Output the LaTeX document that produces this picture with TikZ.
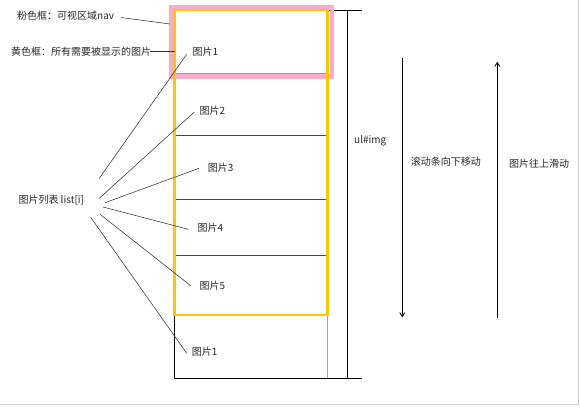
\documentclass[tikz,border=0pt]{standalone}
\usepackage{fontspec}
\setmainfont{Noto Sans CJK SC}
\usetikzlibrary{arrows.meta}
\definecolor{pinkc}{RGB}{250,172,200}
\definecolor{yel}{RGB}{255,198,0}
\definecolor{sepc}{RGB}{70,70,70}
\begin{document}
\begin{tikzpicture}[x=1pt,y=-1pt,
  lbl/.style={anchor=west,inner sep=0pt,font=\fontsize{10}{12}\selectfont,text=black!85},
  fan/.style={draw=black!80,line width=0.55pt},
  sepline/.style={draw=sepc,line width=0.8pt},
  mvarrow/.style={draw=black,line width=0.8pt,-{Straight Barb[length=4pt,width=5pt]}}]
\useasboundingbox (0,0) rectangle (580,407);
% screenshot frame
\draw[gray!40,line width=1pt] (578.5,0) -- (578.5,404.5) -- (0,404.5);
% container ul#img
\draw[black,line width=0.8pt] (174.3,10) -- (174.3,378) -- (362,378);
\draw[gray!70,line width=0.9pt] (327.7,315) -- (327.7,378);
\draw[sepline,draw=gray!80] (174.3,73) -- (327.7,73);
\draw[sepline] (174.3,135) -- (327.7,135);
\draw[sepline] (174.3,199.3) -- (327.7,199.3);
\draw[sepline] (174.3,255.7) -- (327.7,255.7);
\draw[black,line width=0.8pt] (325,10.3) -- (362,10.3);
\draw[black,line width=0.8pt] (347.7,10.3) -- (347.7,378);
% pink and yellow frames
\draw[pinkc,line width=4.5pt] (171.5,7) rectangle (331.8,76.5);
\draw[yel,line width=2.5pt] (174.3,10) rectangle (327.3,315);
% labels
\node[lbl] (pinklbl) at (17,15.7) {粉色框：可视区域nav};
\node[lbl] (yellbl) at (11,51.7) {黄色框：所有需要被显示的图片};
\node[lbl] (img1) at (192.3,51.7) {图片1};
\node[lbl] (img2) at (199.3,111) {图片2};
\node[lbl] (img3) at (207.7,167.7) {图片3};
\node[lbl] (img4) at (197.3,227.7) {图片4};
\node[lbl] (img5) at (199.3,285.7) {图片5};
\node[lbl] (img6) at (191.7,351.7) {图片1};
\node[lbl] (list) at (18.3,200) {图片列表 list[i]};
\node[lbl] (ul) at (354,140.7) {ul\#img};
\node[lbl] (down) at (410.7,161.7) {滚动条向下移动};
\node[lbl] (up) at (509,163.3) {图片往上滑动};
% connector end points
\coordinate (pa) at (121,17.5);  \coordinate (pb) at (170,24);
\coordinate (ya) at (150,51.5);  \coordinate (yb) at (175,51.5);
\coordinate (s1) at (99.3,178.3); \coordinate (e1) at (186.7,54.3);
\coordinate (s2) at (99.3,198.3); \coordinate (e2) at (194.3,112);
\coordinate (s3) at (105,202.7);  \coordinate (e3) at (199,168.3);
\coordinate (s4) at (103,207);    \coordinate (e4) at (188.3,229.3);
\coordinate (s5) at (100,214.3);  \coordinate (e5) at (190.7,285.7);
\coordinate (s6) at (90.7,217.3); \coordinate (e6) at (186.7,353.3);
\draw[fan] (pa) -- (pb);
\draw[fan] (ya) -- (yb);
\draw[fan] (s1) -- (e1);
\draw[fan] (s2) -- (e2);
\draw[fan] (s3) -- (e3);
\draw[fan] (s4) -- (e4);
\draw[fan] (s5) -- (e5);
\draw[fan] (s6) -- (e6);
% scroll arrows
\coordinate (da) at (402.3,58.3); \coordinate (db) at (402.3,317.3);
\coordinate (ua) at (497.3,318.3); \coordinate (ub) at (497.3,61.7);
\draw[mvarrow] (da) -- (db);
\draw[mvarrow] (ua) -- (ub);
\end{tikzpicture}
\end{document}
